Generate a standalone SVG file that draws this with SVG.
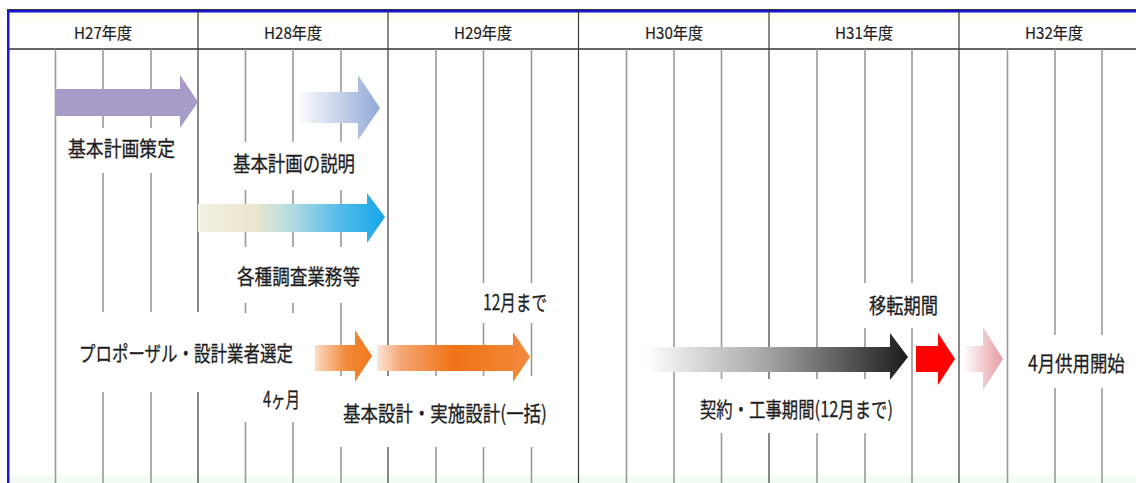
<svg xmlns="http://www.w3.org/2000/svg" width="1136" height="483" viewBox="0 0 1136 483">
<defs>
<style>
.q{stroke:#9a9a9a;stroke-width:1.6}
.y{stroke:#3a3a3a;stroke-width:1.2}
.bg{fill:#ffffff}
.hd{font-family:"Noto Sans CJK JP","Liberation Sans",sans-serif;font-size:16px;fill:#222;stroke:#222;stroke-width:0.2;text-anchor:middle}
.lb{font-family:"Noto Sans CJK JP",sans-serif;font-size:21px;fill:#1e1e1e;stroke:#1e1e1e;stroke-width:0.3}
</style>
<linearGradient id="gBlue" x1="0" y1="0" x2="1" y2="0">
<stop offset="0" stop-color="#ffffff"/><stop offset="0.3" stop-color="#dfe6f3"/><stop offset="1" stop-color="#91a9d6"/>
</linearGradient>
<linearGradient id="gTeal" x1="0" y1="0" x2="1" y2="0">
<stop offset="0" stop-color="#f3f0e4"/><stop offset="0.3" stop-color="#ebe6cc"/><stop offset="0.5" stop-color="#b4dde2"/><stop offset="0.75" stop-color="#55bce8"/><stop offset="1" stop-color="#16a6ea"/>
</linearGradient>
<linearGradient id="gOr1" x1="0" y1="0" x2="1" y2="0">
<stop offset="0" stop-color="#fbdcc4"/><stop offset="0.55" stop-color="#f28a3a"/><stop offset="1" stop-color="#f0781c"/>
</linearGradient>
<linearGradient id="gOr2" x1="0" y1="0" x2="1" y2="0">
<stop offset="0" stop-color="#fbe6d8"/><stop offset="0.15" stop-color="#f5a877"/><stop offset="0.5" stop-color="#ef7314"/><stop offset="1" stop-color="#f28a3c"/>
</linearGradient>
<linearGradient id="gBlk" x1="0" y1="0" x2="1" y2="0">
<stop offset="0" stop-color="#ffffff"/><stop offset="0.45" stop-color="#a8a8a8"/><stop offset="1" stop-color="#1c1c1c"/>
</linearGradient>
<linearGradient id="gPink" x1="0" y1="0" x2="1" y2="0">
<stop offset="0" stop-color="#ffffff"/><stop offset="1" stop-color="#e49aa2"/>
</linearGradient>
<linearGradient id="gHead" x1="0" y1="0" x2="0" y2="1">
<stop offset="0" stop-color="#fdfde8"/><stop offset="0.35" stop-color="#ffffff"/><stop offset="1" stop-color="#ffffff"/>
</linearGradient>
</defs>
<rect x="0" y="0" width="1136" height="483" fill="#ffffff"/>
<rect x="9" y="476" width="1127" height="7" fill="#f3fcf3"/>
<g id="grid">
<rect x="9" y="11" width="1127" height="38" fill="url(#gHead)"/>
<line x1="7" y1="9.5" x2="1136" y2="9.5" stroke="#333" stroke-width="1"/>
<rect x="9" y="10" width="1127" height="2.5" fill="#1414d0"/>
<rect x="7" y="10" width="2.5" height="473" fill="#1a1ac8"/>
<line x1="9" y1="49" x2="1136" y2="49" stroke="#333" stroke-width="1.3"/>
<g class="y">
<line x1="198" y1="11" x2="198" y2="483"/><line x1="388" y1="11" x2="388" y2="483"/><line x1="578.5" y1="11" x2="578.5" y2="483"/><line x1="769" y1="11" x2="769" y2="483"/><line x1="959" y1="11" x2="959" y2="483"/>
</g>
<g class="q">
<line x1="55.5" y1="49" x2="55.5" y2="483"/><line x1="103" y1="49" x2="103" y2="483"/><line x1="151" y1="49" x2="151" y2="483"/>
<line x1="245.5" y1="49" x2="245.5" y2="483"/><line x1="293" y1="49" x2="293" y2="483"/><line x1="341" y1="49" x2="341" y2="483"/>
<line x1="436" y1="49" x2="436" y2="483"/><line x1="483.5" y1="49" x2="483.5" y2="483"/><line x1="531.5" y1="49" x2="531.5" y2="483"/>
<line x1="626.5" y1="49" x2="626.5" y2="483"/><line x1="674" y1="49" x2="674" y2="483"/><line x1="721.5" y1="49" x2="721.5" y2="483"/>
<line x1="817" y1="49" x2="817" y2="483"/><line x1="865" y1="49" x2="865" y2="483"/><line x1="912" y1="49" x2="912" y2="483"/>
<line x1="1007.5" y1="49" x2="1007.5" y2="483"/><line x1="1055" y1="49" x2="1055" y2="483"/><line x1="1102" y1="49" x2="1102" y2="483"/>
</g>
<g class="bg">
<rect x="62" y="128" width="118" height="45"/>
<rect x="225" y="142" width="140" height="48"/>
<rect x="228" y="247" width="140" height="56"/>
<rect x="70" y="312" width="160" height="80"/>
<rect x="235" y="313" width="70" height="109"/>
<rect x="335" y="376" width="220" height="71"/>
<rect x="470" y="283" width="85" height="40"/>
<rect x="695" y="379" width="205" height="54"/>
<rect x="858" y="283" width="90" height="45"/>
<rect x="1018" y="335" width="112" height="53"/>
</g>
</g>
<g id="header" class="hd">
<text x="103" y="39" textLength="58" lengthAdjust="spacingAndGlyphs">H27年度</text>
<text x="293" y="39" textLength="58" lengthAdjust="spacingAndGlyphs">H28年度</text>
<text x="483" y="39" textLength="58" lengthAdjust="spacingAndGlyphs">H29年度</text>
<text x="674" y="39" textLength="58" lengthAdjust="spacingAndGlyphs">H30年度</text>
<text x="864" y="39" textLength="58" lengthAdjust="spacingAndGlyphs">H31年度</text>
<text x="1054" y="39" textLength="58" lengthAdjust="spacingAndGlyphs">H32年度</text>
</g>
<g id="n-kihon-sakutei">
<polygon points="55,89 180,89 180,75 198,102 180,128 180,116 55,116" fill="#a99bc7"/>
<text class="lb" x="68" y="156" font-size="22" textLength="107" lengthAdjust="spacingAndGlyphs">基本計画策定</text>
</g>
<g id="n-kihon-setsumei">
<polygon points="295,92 358,92 358,75 380,108 358,140 358,123 295,123" fill="url(#gBlue)"/>
<text class="lb" x="233" y="171" font-size="22" textLength="122" lengthAdjust="spacingAndGlyphs">基本計画の説明</text>
</g>
<g id="n-chousa">
<polygon points="198,204 367,204 367,193 385,217 367,243 367,232 198,232" fill="url(#gTeal)"/>
<text class="lb" x="237" y="284" textLength="123" lengthAdjust="spacingAndGlyphs">各種調査業務等</text>
</g>
<g id="n-proposal">
<polygon points="315,345 355,345 355,330 372,356 355,382 355,371 315,371" fill="url(#gOr1)"/>
<text class="lb" x="79" y="361" textLength="214" lengthAdjust="spacingAndGlyphs">プロポーザル・設計業者選定</text>
<text class="lb" x="263" y="407" font-size="19" textLength="37" lengthAdjust="spacingAndGlyphs">4ヶ月</text>
</g>
<g id="n-sekkei">
<polygon points="377,345 513,345 513,332 530,357 513,382 513,371 377,371" fill="url(#gOr2)"/>
<text class="lb" x="483" y="310" font-size="19" textLength="64" lengthAdjust="spacingAndGlyphs">12月まで</text>
<text class="lb" x="343" y="421" textLength="204" lengthAdjust="spacingAndGlyphs">基本設計・実施設計(一括)</text>
</g>
<g id="n-kouji">
<polygon points="645,347 890,347 890,333 908,357 890,380 890,372 645,372" fill="url(#gBlk)"/>
<text class="lb" x="700" y="417" textLength="193" lengthAdjust="spacingAndGlyphs">契約・工事期間(12月まで)</text>
</g>
<g id="n-iten">
<polygon points="916,346 938,346 938,333 955,359 938,385 938,372 916,372" fill="#ff0000"/>
<text class="lb" x="869" y="313" font-size="19" textLength="69" lengthAdjust="spacingAndGlyphs">移転期間</text>
</g>
<g id="n-kyouyou">
<polygon points="963,346 983,346 983,327 1003,359 983,390 983,372 963,372" fill="url(#gPink)"/>
<text class="lb" transform="translate(1028,371) scale(0.83,1)" x="0" y="0" font-size="19">4月供用開始</text>
</g>
<g id="connectors"/>
</svg>
